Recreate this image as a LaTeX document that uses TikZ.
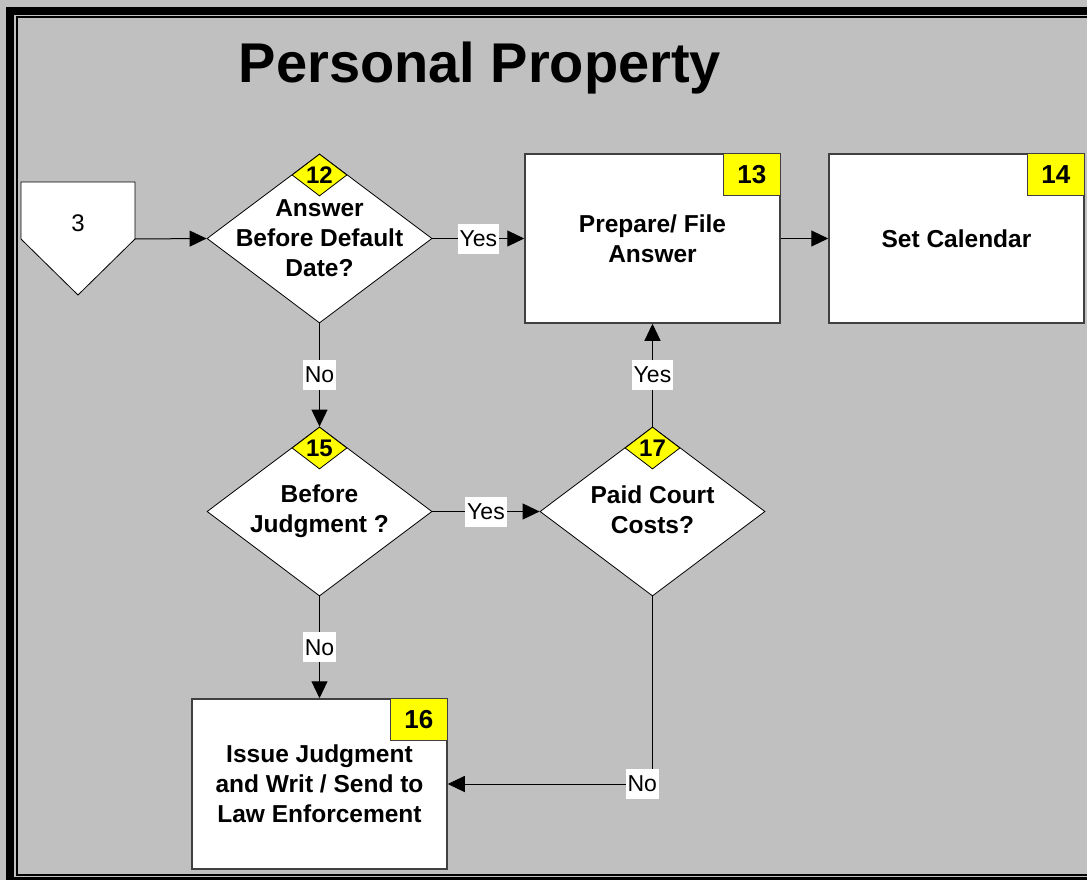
\documentclass[tikz,border=0pt]{standalone}
\usepackage{fontspec}
\setmainfont{Liberation Sans}
\usetikzlibrary{shapes.geometric,arrows.meta}
\definecolor{bg}{HTML}{C0C0C0}
\definecolor{ylw}{HTML}{FFFF00}
\begin{document}
\begin{tikzpicture}[x=1pt,y=-1pt,
  arr/.style={draw=black, line width=1pt, -{Triangle[length=17pt,width=16pt]}},
  procbox/.style={rectangle, draw=black!75, line width=1.5pt, fill=white, minimum width=255pt, minimum height=169pt, inner sep=0pt, align=center, font=\fontsize{24.5}{30}\selectfont\bfseries},
  decision/.style={diamond, draw=black, line width=0.8pt, fill=white, minimum width=225pt, minimum height=169pt, inner sep=0pt},
  dtext/.style={align=center, font=\fontsize{24.5}{30}\selectfont\bfseries, inner sep=0pt},
  dnum/.style={diamond, draw=black, line width=0.8pt, fill=ylw, minimum width=55pt, minimum height=42pt, inner sep=0pt, anchor=north},
  numfont/.style={font=\fontsize{24}{24}\selectfont\bfseries, inner sep=0pt},
  bnum/.style={rectangle, draw=black!75, line width=1pt, fill=ylw, minimum width=57pt, minimum height=42pt, inner sep=0pt, anchor=north east, font=\fontsize{26}{26}\selectfont\bfseries},
  lbl/.style={fill=white, inner xsep=2pt, inner ysep=0pt, minimum height=30pt, font=\fontsize{23}{23}\selectfont},
]
\useasboundingbox (0,0) rectangle (1087,880);
% background and frame
\fill[bg] (0,0) rectangle (1087,880);
\fill[black] (6,7) rectangle (14,880);
\fill[black] (6,7) rectangle (1087,15);
\fill[black] (6,877) rectangle (1087,880);
\draw[black, line width=1.8pt] (1087,17) -- (17,17) -- (17,875) -- (1087,875);

% title
\node[anchor=base, font=\fontsize{56}{56}\selectfont\bfseries, inner sep=0pt] (title) at (480,83) {Personal Property};

% off-page connector
\draw[fill=white, draw=black, line width=0.8pt] (21,182) -- (135,182) -- (135,239) -- (78,295) -- (21,239) -- cycle;
\node[font=\fontsize{24}{24}\selectfont, inner sep=0pt] (off3) at (78,223) {3};
\coordinate (c3) at (135,239);

% decisions
\node[decision] (d12) at (319.5,238.5) {};
\node[dtext] (t12) at (319.5,238) {Answer\\Before Default\\Date?};
\node[dnum] (n12) at (d12.north) {};
\node[numfont] at (n12.center) {12};

\node[decision] (d15) at (319.5,511.5) {};
\node[dtext] (t15) at (319.5,511) {Before\\Judgment ?};
\node[dnum] (n15) at (d15.north) {};
\node[numfont] at (n15.center) {15};

\node[decision] (d17) at (652.5,511.5) {};
\node[dtext] (t17) at (652.5,510) {Paid Court\\Costs?};
\node[dnum] (n17) at (d17.north) {};
\node[numfont] at (n17.center) {17};

% process boxes
\node[procbox] (b13) at (652.5,238.5) {Prepare/ File\\Answer};
\node[bnum] (n13) at (b13.north east) {13};

\node[procbox] (b14) at (956.5,238.5) {Set Calendar};
\node[bnum] (n14) at (b14.north east) {14};

\node[procbox, minimum height=170pt] (b16) at (319.5,784) {Issue Judgment\\and Writ / Send to\\Law Enforcement};
\node[bnum] (n16) at (b16.north east) {16};

% connectors
\draw[arr] (c3) -- (d12.west);
\draw[arr] (d12.east) -- node[lbl] {Yes} (b13.west);
\draw[arr] (b13.east) -- (b14.west);
\draw[arr] (d12.south) -- node[lbl] {No} (d15.north);
\draw[arr] (d15.east) -- node[lbl] {Yes} (d17.west);
\draw[arr] (d17.north) -- node[lbl] {Yes} (b13.south);
\draw[arr] (d15.south) -- node[lbl] {No} (b16.north);
\draw[arr] (d17.south) |- node[lbl, pos=0.525] {No} (b16.east);
\end{tikzpicture}
\end{document}
